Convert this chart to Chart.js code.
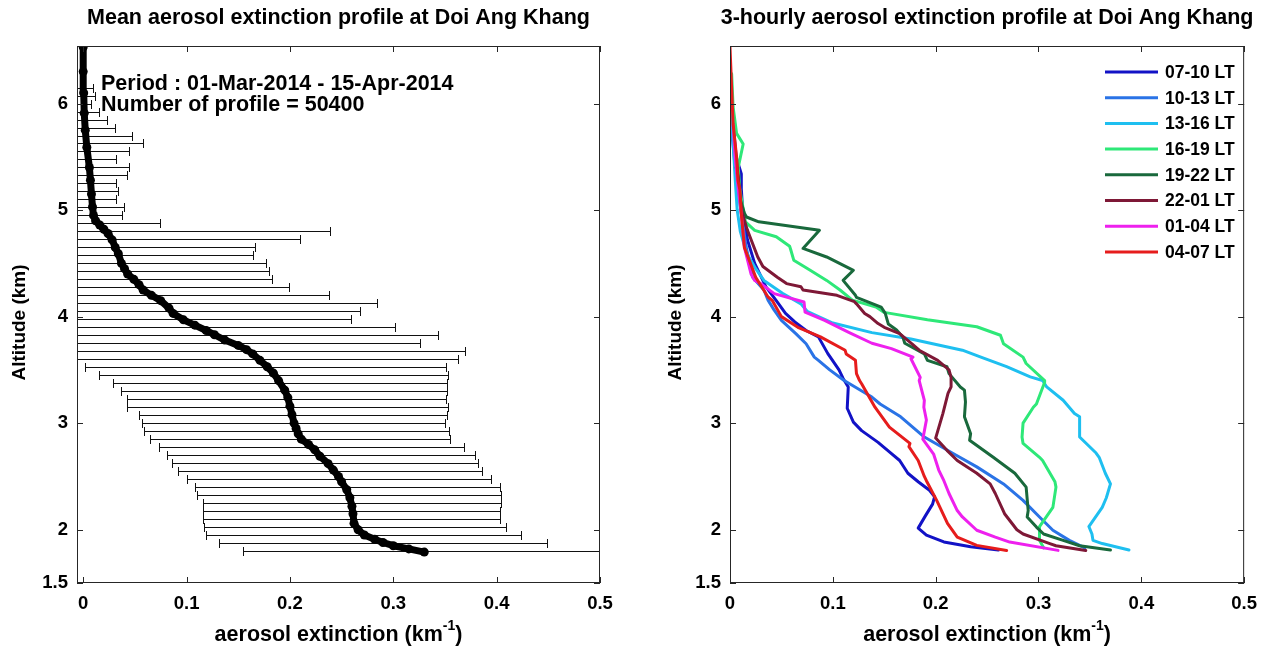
<!DOCTYPE html>
<html>
<head>
<meta charset="utf-8">
<script src="https://cdn.jsdelivr.net/npm/chart.js@4.4.1/dist/chart.umd.min.js"></script>
<style>
  html, body { margin: 0; padding: 0; background: #fff; }
  #wrap { position: relative; width: 1267px; height: 646px; overflow: hidden; }
  canvas { position: absolute; top: 0; }
  #mean-chart { left: 0; }
  #hourly-chart { left: 633px; }
</style>
</head>
<body>
<div id="wrap">
  <canvas id="mean-chart" width="633" height="646"></canvas>
  <canvas id="hourly-chart" width="634" height="646"></canvas>
</div>
<script>
'use strict';

const FONT = "'Liberation Sans', Arial, Helvetica, sans-serif";

// ── Axis ticks ───────────────────────────────────────────────────────────────

const xTicks = [0, 0.1, 0.2, 0.3, 0.4, 0.5];
const yTicks = [1.5, 2, 3, 4, 5, 6];

// ── Left panel: mean profile (altitude km / extinction km-1) ────────────────

const meanAlt = [1.79, 1.82, 1.85, 1.88, 1.91, 1.95, 2.0, 2.06, 2.15, 2.22,
  2.3, 2.375, 2.45, 2.5, 2.56, 2.62, 2.69, 2.75, 2.8, 2.85,
  2.9, 2.95, 3.0, 3.08, 3.16, 3.24, 3.31, 3.4, 3.47, 3.53,
  3.59, 3.65, 3.69, 3.73, 3.78, 3.83, 3.87, 3.92, 3.97, 4.03,
  4.08, 4.15, 4.2, 4.25, 4.3, 4.35, 4.4, 4.45, 4.5, 4.59,
  4.65, 4.72, 4.78, 4.82, 4.86, 4.9, 4.95, 5.03, 5.15, 5.28,
  5.4, 5.59, 5.75, 5.91, 6.1, 6.3, 6.53];
const meanExt = [0.330, 0.315, 0.300, 0.290, 0.282, 0.272, 0.266, 0.262, 0.261, 0.260,
  0.258, 0.255, 0.250, 0.247, 0.242, 0.237, 0.229, 0.224, 0.218, 0.211,
  0.208, 0.206, 0.204, 0.202, 0.200, 0.198, 0.195, 0.189, 0.184, 0.178,
  0.171, 0.164, 0.158, 0.150, 0.137, 0.127, 0.119, 0.108, 0.097, 0.087,
  0.083, 0.075, 0.066, 0.058, 0.054, 0.049, 0.043, 0.040, 0.037, 0.034,
  0.031, 0.028, 0.024, 0.020, 0.016, 0.012, 0.010, 0.009, 0.008, 0.007,
  0.006, 0.0035, 0.002, 0.001, 0.0005, 0.000, 0.000];

// error bars (mean -/+ std) per 75 m level
const barAlt = [1.8, 1.875, 1.95, 2.025, 2.1, 2.175, 2.25, 2.325, 2.4, 2.475,
  2.55, 2.625, 2.7, 2.775, 2.85, 2.925, 3.0, 3.075, 3.15, 3.225,
  3.3, 3.375, 3.45, 3.525, 3.6, 3.675, 3.75, 3.825, 3.9, 3.975,
  4.05, 4.125, 4.2, 4.275, 4.35, 4.425, 4.5, 4.575, 4.65, 4.725,
  4.8, 4.875, 4.95, 5.025, 5.1, 5.175, 5.25, 5.325, 5.4, 5.475,
  5.55, 5.625, 5.7, 5.775, 5.85, 5.925, 6.0, 6.075, 6.15];
const barLow = [0.155, 0.131, 0.119, 0.117, 0.116, 0.116, 0.116, 0.110, 0.108, 0.100,
  0.092, 0.086, 0.081, 0.073, 0.065, 0.059, 0.057, 0.054, 0.042, 0.042,
  0.037, 0.029, 0.015, 0.002, -0.023, -0.049, -0.034, -0.094, -0.078, -0.065,
  -0.095, -0.128, -0.106, -0.087, -0.085, -0.098, -0.103, -0.096, -0.104, -0.154,
  -0.195, -0.046, -0.018, -0.021, -0.015, -0.017, -0.016, -0.027, -0.032, -0.020,
  -0.033, -0.051, -0.041, -0.027, -0.020, -0.013, -0.006, -0.010, -0.008];
const barHigh = [0.505, 0.449, 0.424, 0.409, 0.403, 0.403, 0.404, 0.404, 0.403, 0.395,
  0.386, 0.382, 0.379, 0.368, 0.355, 0.354, 0.350, 0.352, 0.353, 0.351,
  0.352, 0.352, 0.353, 0.351, 0.363, 0.369, 0.326, 0.343, 0.302, 0.259,
  0.268, 0.284, 0.238, 0.199, 0.183, 0.180, 0.177, 0.164, 0.166, 0.210,
  0.239, 0.074, 0.038, 0.039, 0.032, 0.034, 0.032, 0.042, 0.044, 0.032,
  0.044, 0.058, 0.047, 0.031, 0.023, 0.015, 0.008, 0.011, 0.009];

// ── Right panel: 3-hourly profiles, [altitude km, extinction km-1] ──────────

const lt0710 = [[1.81, 0.261], [1.84, 0.234], [1.885, 0.208], [1.95, 0.191], [2.015, 0.183],
  [2.13, 0.190], [2.24, 0.197], [2.31, 0.199], [2.37, 0.194], [2.45, 0.183], [2.53, 0.173],
  [2.65, 0.165], [2.73, 0.155], [2.82, 0.144], [2.93, 0.128], [3.01, 0.120], [3.14, 0.114],
  [3.34, 0.115], [3.42, 0.110], [3.5, 0.106], [3.655, 0.095], [3.81, 0.086], [3.87, 0.074],
  [3.95, 0.063], [4.03, 0.054], [4.15, 0.045], [4.28, 0.035], [4.5, 0.024], [4.72, 0.017],
  [4.97, 0.0125], [5.2, 0.011], [5.34, 0.011], [5.5, 0.006], [5.81, 0.003], [5.9, 0.002]];
const lt1013 = [[1.83, 0.345], [1.9, 0.330], [1.995, 0.314], [2.12, 0.301], [2.275, 0.285],
  [2.43, 0.266], [2.59, 0.240], [2.715, 0.217], [2.87, 0.189], [3.06, 0.166], [3.18, 0.146],
  [3.245, 0.138], [3.4, 0.111], [3.5, 0.097], [3.59, 0.086], [3.62, 0.082], [3.745, 0.074],
  [3.84, 0.064], [3.965, 0.050], [4.06, 0.043], [4.155, 0.037], [4.25, 0.033], [4.37, 0.022],
  [4.655, 0.0157], [4.97, 0.011], [5.3, 0.006], [5.6, 0.003], [5.8, 0.001], [6.0, 0.0]];
const lt1316 = [[1.81, 0.388], [1.87, 0.362], [1.9, 0.353], [1.96, 0.352], [2.03, 0.349],
  [2.21, 0.362], [2.3, 0.366], [2.43, 0.370], [2.53, 0.365], [2.68, 0.359], [2.72, 0.356],
  [2.87, 0.340], [3.06, 0.340], [3.09, 0.335], [3.215, 0.324], [3.34, 0.308], [3.4, 0.304],
  [3.435, 0.292], [3.53, 0.269], [3.62, 0.244], [3.685, 0.226], [3.79, 0.176], [3.85, 0.138],
  [3.94, 0.100], [4.05, 0.075], [4.12, 0.069], [4.22, 0.051], [4.34, 0.033], [4.45, 0.025],
  [4.6, 0.016], [4.8, 0.010], [5.0, 0.007], [5.3, 0.005], [5.65, 0.003], [6.0, 0.001]];
const lt1619 = [[1.83, 0.305], [1.9, 0.301], [2.03, 0.301], [2.21, 0.314], [2.4, 0.317],
  [2.45, 0.316], [2.65, 0.304], [2.68, 0.301], [2.81, 0.285], [2.87, 0.284], [3.0, 0.285],
  [3.15, 0.295], [3.18, 0.298], [3.385, 0.306], [3.4, 0.306], [3.56, 0.288], [3.62, 0.285],
  [3.745, 0.266], [3.825, 0.263], [3.905, 0.240], [3.97, 0.192], [4.04, 0.150], [4.09, 0.142],
  [4.155, 0.119], [4.25, 0.107], [4.34, 0.094], [4.435, 0.078], [4.53, 0.062], [4.63, 0.059],
  [4.66, 0.058], [4.75, 0.045], [4.81, 0.024], [4.89, 0.015], [5.19, 0.0096], [5.4, 0.008],
  [5.62, 0.0128], [5.72, 0.0064], [5.97, 0.003], [6.28, 0.0016]];
const lt1922 = [[1.81, 0.370], [1.85, 0.340], [1.9, 0.324], [1.96, 0.305], [2.025, 0.298],
  [2.12, 0.289], [2.18, 0.290], [2.4, 0.288], [2.53, 0.277], [2.68, 0.256], [2.84, 0.233],
  [2.9, 0.234], [3.06, 0.228], [3.2, 0.229], [3.31, 0.228], [3.34, 0.224], [3.465, 0.213],
  [3.53, 0.211], [3.59, 0.192], [3.65, 0.189], [3.75, 0.170], [3.81, 0.168], [3.875, 0.162],
  [3.93, 0.154], [4.03, 0.151], [4.09, 0.147], [4.18, 0.123], [4.2, 0.122], [4.34, 0.110],
  [4.435, 0.120], [4.56, 0.094], [4.64, 0.071], [4.81, 0.087], [4.89, 0.028], [4.935, 0.016],
  [4.97, 0.014], [5.1, 0.010], [5.3, 0.008], [5.4, 0.006]];
const lt2201 = [[1.806, 0.346], [1.85, 0.317], [1.87, 0.311], [1.96, 0.285], [2.0, 0.279],
  [2.15, 0.267], [2.34, 0.258], [2.43, 0.253], [2.53, 0.240], [2.65, 0.221], [2.745, 0.211],
  [2.86, 0.200], [3.09, 0.207], [3.28, 0.212], [3.34, 0.215], [3.43, 0.215], [3.5, 0.213],
  [3.59, 0.202], [3.685, 0.184], [3.745, 0.177], [3.84, 0.165], [3.9, 0.150], [3.935, 0.144],
  [4.0, 0.136], [4.03, 0.131], [4.12, 0.123], [4.14, 0.121], [4.2, 0.104], [4.25, 0.071],
  [4.28, 0.069], [4.31, 0.055], [4.37, 0.046], [4.47, 0.032], [4.56, 0.027], [4.81, 0.017],
  [5.0, 0.011], [5.3, 0.008], [5.5, 0.006]];
const lt0104 = [[1.806, 0.319], [1.884, 0.272], [1.93, 0.258], [1.995, 0.240], [2.12, 0.226],
  [2.18, 0.221], [2.34, 0.213], [2.46, 0.208], [2.56, 0.203], [2.68, 0.199], [2.71, 0.198],
  [2.85, 0.1875], [3.03, 0.191], [3.15, 0.1885], [3.215, 0.189], [3.4, 0.184], [3.43, 0.185],
  [3.605, 0.176], [3.62, 0.178], [3.7, 0.157], [3.75, 0.138], [3.85, 0.116], [3.965, 0.092],
  [4.043, 0.073], [4.137, 0.072], [4.216, 0.043], [4.31, 0.030], [4.34, 0.024], [4.4, 0.0205],
  [4.65, 0.014], [4.967, 0.011], [5.2, 0.008], [5.5, 0.005], [5.8, 0.003]];
const lt0407 = [[1.806, 0.269], [1.853, 0.240], [1.93, 0.221], [2.06, 0.2115], [2.275, 0.201],
  [2.46, 0.191], [2.5, 0.189], [2.65, 0.183], [2.78, 0.174], [2.81, 0.175], [2.963, 0.155],
  [3.15, 0.141], [3.37, 0.128], [3.4, 0.126], [3.465, 0.123], [3.59, 0.122], [3.65, 0.113],
  [3.684, 0.112], [3.81, 0.088], [3.9, 0.066], [4.0, 0.050], [4.153, 0.041], [4.184, 0.037],
  [4.37, 0.025], [4.65, 0.014], [4.967, 0.011], [5.19, 0.0096], [5.28, 0.0077], [5.5, 0.0064],
  [5.81, 0.003], [6.53, 0.0]];

const hourLabels = ['07-10 LT', '10-13 LT', '13-16 LT', '16-19 LT', '19-22 LT', '22-01 LT', '01-04 LT', '04-07 LT'];
const hourSeries = [lt0710, lt1013, lt1316, lt1619, lt1922, lt2201, lt0104, lt0407];
const hourColors = ['#1212c6', '#2a73e6', '#1ebff0', '#2ee878', '#19693c', '#7e1836', '#ee20ee', '#e61c1c'];

// ── MATLAB-like frame, texts and error bars ─────────────────────────────────

const frame = {
  id: 'frame',
  beforeDatasetsDraw(chart, args, o) {
    if (!o.bars) return;
    const { ctx, chartArea: a, scales: { x, y } } = chart;
    ctx.save();
    ctx.beginPath();
    ctx.rect(a.left, a.top, a.right - a.left, a.bottom - a.top);
    ctx.clip();
    ctx.strokeStyle = '#111';
    ctx.lineWidth = 1;
    ctx.beginPath();
    barAlt.forEach((alt, i) => {
      const py = Math.round(y.getPixelForValue(alt)) + 0.5;
      const x0 = Math.round(x.getPixelForValue(barLow[i])) + 0.5;
      const x1 = Math.round(x.getPixelForValue(barHigh[i])) + 0.5;
      ctx.moveTo(x0, py); ctx.lineTo(x1, py);
      ctx.moveTo(x0, py - 4.5); ctx.lineTo(x0, py + 4.5);
      ctx.moveTo(x1, py - 4.5); ctx.lineTo(x1, py + 4.5);
    });
    ctx.stroke();
    ctx.restore();
  },
  afterDraw(chart, args, o) {
    const { ctx, chartArea: a, scales: { x, y } } = chart;
    ctx.save();

    // box + inward ticks on all four sides
    ctx.strokeStyle = '#262626';
    ctx.lineWidth = 1;
    ctx.strokeRect(a.left + 0.5, a.top + 0.5, a.right - a.left - 1, a.bottom - a.top - 1);
    ctx.beginPath();
    xTicks.forEach(v => {
      const px = Math.round(x.getPixelForValue(v)) + 0.5;
      ctx.moveTo(px, a.bottom); ctx.lineTo(px, a.bottom - 6);
      ctx.moveTo(px, a.top); ctx.lineTo(px, a.top + 6);
    });
    yTicks.forEach(v => {
      const py = Math.round(y.getPixelForValue(v)) + 0.5;
      ctx.moveTo(a.left, py); ctx.lineTo(a.left + 6, py);
      ctx.moveTo(a.right, py); ctx.lineTo(a.right - 6, py);
    });
    ctx.stroke();

    const cx = (a.left + a.right) / 2;
    ctx.fillStyle = '#000';

    // title
    ctx.textAlign = 'center';
    ctx.textBaseline = 'alphabetic';
    ctx.font = `bold 21.5px ${FONT}`;
    ctx.fillText(o.title, cx, 24);

    // y title
    ctx.save();
    ctx.translate(o.yTitleX, (a.top + a.bottom) / 2 + 8);
    ctx.rotate(-Math.PI / 2);
    ctx.textBaseline = 'middle';
    ctx.font = `bold 19px ${FONT}`;
    ctx.fillText('Altitude (km)', 0, 0);
    ctx.restore();

    // x title with superscript
    const main = 'aerosol extinction (km';
    ctx.font = `bold 21.5px ${FONT}`;
    const w1 = ctx.measureText(main).width;
    const w3 = ctx.measureText(')').width;
    ctx.font = `bold 14px ${FONT}`;
    const w2 = ctx.measureText('-1').width;
    const sx = cx - (w1 + w2 + w3) / 2;
    ctx.textAlign = 'left';
    ctx.font = `bold 21.5px ${FONT}`;
    ctx.fillText(main, sx, 641);
    ctx.fillText(')', sx + w1 + w2, 641);
    ctx.font = `bold 14px ${FONT}`;
    ctx.fillText('-1', sx + w1, 630);

    // annotation
    if (o.notes) {
      ctx.font = `bold 21.5px ${FONT}`;
      o.notes.forEach((t, i) => ctx.fillText(t, 101, 90 + i * 21));
    }

    // legend
    if (o.legend) {
      ctx.font = `bold 17.5px ${FONT}`;
      ctx.textBaseline = 'middle';
      chart.data.datasets.forEach((ds, i) => {
        const ly = 72 + i * 25.7;
        ctx.strokeStyle = ds.borderColor;
        ctx.lineWidth = 3;
        ctx.beginPath();
        ctx.moveTo(472, ly); ctx.lineTo(525, ly);
        ctx.stroke();
        ctx.fillText(ds.label, 532, ly + 1);
      });
    }
    ctx.restore();
  }
};

// ── Chart factory ────────────────────────────────────────────────────────────

function scales(xMin, yWidth) {
  const tickFont = { family: FONT, size: 18.5, weight: 'bold' };
  return {
    x: {
      type: 'linear', min: xMin, max: 0.5,
      grid: { display: false, drawTicks: false }, border: { display: false },
      afterBuildTicks: s => { s.ticks = xTicks.map(v => ({ value: v })); },
      afterFit: s => { s.height = 63; },
      ticks: { color: '#000', font: tickFont, padding: 10, maxRotation: 0, autoSkip: false,
        callback: v => (v === 0 ? '0' : v.toFixed(1)) },
    },
    y: {
      type: 'linear', min: 1.5, max: 6.54,
      grid: { display: false, drawTicks: false }, border: { display: false },
      afterBuildTicks: s => { s.ticks = yTicks.map(v => ({ value: v })); },
      afterFit: s => { s.width = yWidth; },
      ticks: { color: '#000', font: tickFont, padding: 9, autoSkip: false, callback: v => String(v) },
    },
  };
}

new Chart(document.getElementById('mean-chart'), {
  type: 'scatter',
  data: {
    datasets: [{
      label: 'mean',
      data: meanAlt.map((alt, i) => ({ x: meanExt[i], y: alt })),
      showLine: true,
      borderColor: '#000',
      backgroundColor: '#000',
      borderWidth: 7,
      pointRadius: 4.5,
      pointBorderWidth: 0,
      borderJoinStyle: 'round',
      borderCapStyle: 'round',
      clip: 0,
    }],
  },
  plugins: [frame],
  options: {
    responsive: false,
    animation: false,
    devicePixelRatio: 1,
    layout: { padding: { top: 46, right: 33, left: 0, bottom: 0 } },
    scales: scales(-0.006, 77),
    plugins: {
      legend: { display: false },
      tooltip: { enabled: false },
      frame: {
        bars: true,
        title: 'Mean aerosol extinction profile at Doi Ang Khang',
        yTitleX: 20,
        notes: ['Period : 01-Mar-2014 - 15-Apr-2014', 'Number of profile = 50400'],
      },
    },
  },
});

new Chart(document.getElementById('hourly-chart'), {
  type: 'scatter',
  data: {
    datasets: hourSeries.map((pts, i) => ({
      label: hourLabels[i],
      data: pts.map(([alt, ext]) => ({ x: ext, y: alt })),
      showLine: true,
      borderColor: hourColors[i],
      backgroundColor: hourColors[i],
      borderWidth: 3,
      pointRadius: 0,
      borderJoinStyle: 'round',
      borderCapStyle: 'round',
      order: hourSeries.length - 1 - i,
      clip: 0,
    })),
  },
  plugins: [frame],
  options: {
    responsive: false,
    animation: false,
    devicePixelRatio: 1,
    layout: { padding: { top: 46, right: 17, left: 0, bottom: 0 } },
    scales: scales(0, 97),
    plugins: {
      legend: { display: false },
      tooltip: { enabled: false },
      frame: {
        legend: true,
        title: '3-hourly aerosol extinction profile at Doi Ang Khang',
        yTitleX: 43,
      },
    },
  },
});
</script>
</body>
</html>
